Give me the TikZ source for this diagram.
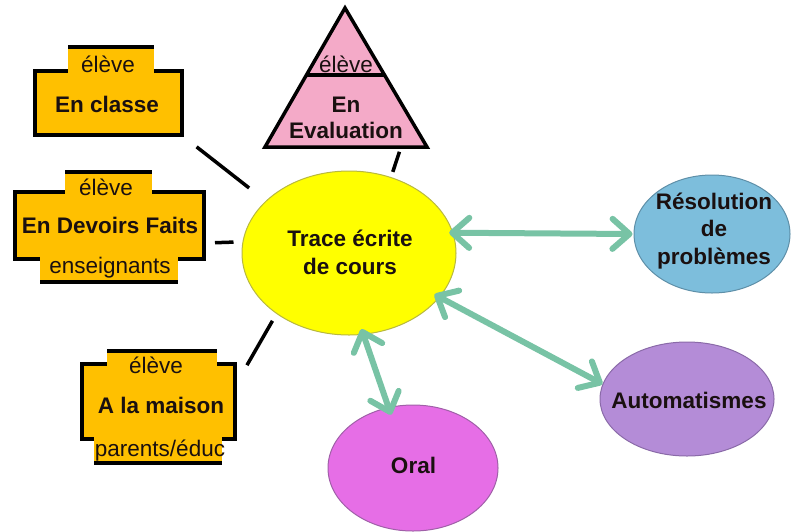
\documentclass[tikz,border=0pt]{standalone}
\usepackage{fontspec}
\setmainfont{Liberation Sans}
\usetikzlibrary{arrows.meta,shapes.geometric}
\definecolor{boxy}{HTML}{FFC000}
\definecolor{trip}{HTML}{F4AAC8}
\definecolor{tracey}{HTML}{FFFF00}
\definecolor{traceb}{HTML}{B8B840}
\definecolor{resf}{HTML}{7DBEDC}
\definecolor{resb}{HTML}{5E8FA8}
\definecolor{autof}{HTML}{B48CD7}
\definecolor{autob}{HTML}{8A6AA8}
\definecolor{oralf}{HTML}{E66EE6}
\definecolor{oralb}{HTML}{A060A8}
\definecolor{arrowc}{HTML}{78C3A5}
\definecolor{ink}{HTML}{1A1010}
\begin{document}
\begin{tikzpicture}[x=1pt,y=-1pt,
  body/.style={draw=black, line width=4pt, fill=boxy, rectangle, inner sep=0pt},
  tabfill/.style={fill=boxy},
  tabedge/.style={line width=4pt, black},
  txt/.style={inner sep=0pt, text height=16pt, text depth=0pt, text=ink, font=\fontsize{22.5}{27}\selectfont},
  btxt/.style={txt, font=\fontsize{22.5}{27}\selectfont\bfseries},
  ell/.style={ellipse, inner sep=0pt, line width=1pt},
  mtxt/.style={inner sep=0pt, align=center, text=ink, font=\fontsize{22.5}{27.5}\selectfont\bfseries},
  blk/.style={line width=3.5pt, black},
  dbl/.style={line width=6pt, arrowc, line cap=round,
    {Straight Barb[length=17pt,width=30pt,round]}-{Straight Barb[length=17pt,width=30pt,round]}}
]
\useasboundingbox (0,0) rectangle (794,531);

% ---- En classe box
\node[body, minimum width=147pt, minimum height=64pt] (classe) at (108.5,103) {};
\fill[tabfill] (68,47) rectangle (154,74);
\draw[tabedge] (68,47) -- (154,47);
\node[txt] (classeA) at (108,64) {élève};
\node[btxt] (classeB) at (107,104) {En classe};

% ---- En Devoirs Faits box
\node[body, minimum width=189pt, minimum height=67pt] (devoirs) at (109.5,225.5) {};
\fill[tabfill] (65,172) rectangle (152,195);
\draw[tabedge] (65,172) -- (152,172);
\fill[tabfill] (40,256) rectangle (178,282);
\draw[tabedge] (40,282) -- (178,282);
\node[txt] (devoirsA) at (106,187) {élève};
\node[btxt] (devoirsB) at (110,225) {En Devoirs Faits};
\node[txt] (devoirsC) at (110,265) {enseignants};

% ---- A la maison box
\node[body, minimum width=153pt, minimum height=75pt] (maison) at (158.5,401.5) {};
\fill[tabfill] (107,351) rectangle (217,367);
\draw[tabedge] (107,351) -- (217,351);
\fill[tabfill] (94,436) rectangle (222,463);
\draw[tabedge] (94,463) -- (222,463);
\node[txt] (maisonA) at (156,365) {élève};
\node[btxt] (maisonB) at (161,405) {A la maison};
\node[txt] (maisonC) at (160,448) {parents/éduc};

% ---- Triangle
\draw[line width=3.5pt, fill=trip, line join=miter] (345,8) -- (427,147) -- (265,147) -- cycle;
\draw[line width=3.5pt] (306.5,75) -- (384.5,75);
\coordinate (evalb) at (401,147);
\node[txt] (evalA) at (346,64) {élève};
\node[btxt] (evalB) at (346,104) {En};
\node[btxt] (evalC) at (346,130) {Evaluation};

% ---- Ellipses
\node[ell, draw=traceb, fill=tracey, minimum width=214pt, minimum height=164pt] (trace) at (349,253) {};
\node[mtxt] (traceT) at (350,252.5) {Trace écrite\\de cours};

\node[ell, draw=resb, fill=resf, minimum width=156pt, minimum height=118pt] (res) at (712,234) {};
\node[mtxt] (resT) at (714,231) {Résolution\\de\\problèmes};

\node[ell, draw=autob, fill=autof, minimum width=174pt, minimum height=114pt] (auto) at (687,399) {};
\node[btxt] (autoT) at (689,400) {Automatismes};

\node[ell, draw=oralb, fill=oralf, minimum width=170pt, minimum height=126pt] (oral) at (413,468) {};
\node[btxt] (oralT) at (413.5,465) {Oral};

% ---- black connectors
\draw[blk, shorten <=16pt, shorten >=21pt] (classe.south east) -- (trace.148);
\draw[blk, shorten <=9pt, shorten >=9pt] ([yshift=-17.5pt]devoirs.east) -- (trace.174.6);
\draw[blk, shorten <=20pt, shorten >=8pt] ([yshift=19pt]maison.east) -- (trace.-140);
\draw[blk, shorten <=5pt, shorten >=5.5pt] (evalb) -- (trace.61.5);

% ---- arrows
\draw[dbl, shorten <=-4pt, shorten >=1pt] (trace.11) -- (res.west);
\draw[dbl, shorten <=-6pt] (trace.-26) -- (auto.170);
\draw[dbl, shorten <=-6pt, shorten >=-8pt] (trace.-80) -- (oral.112);
\end{tikzpicture}
\end{document}
